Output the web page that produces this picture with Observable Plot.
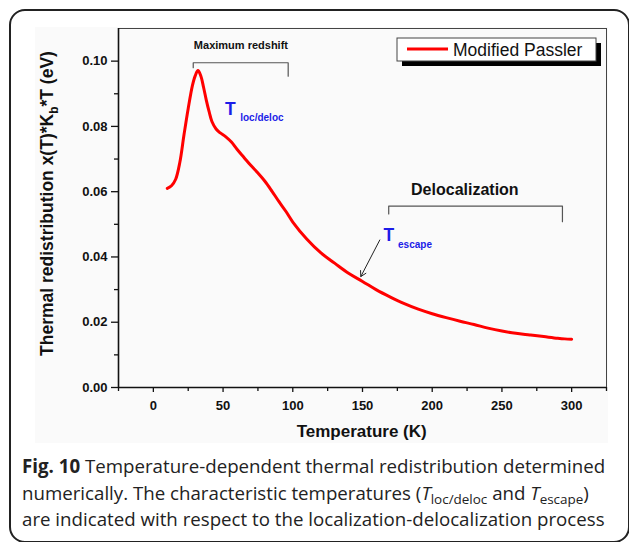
<!DOCTYPE html>
<html><head><meta charset="utf-8">
<script src="https://cdn.jsdelivr.net/npm/d3@7"></script>
<script src="https://cdn.jsdelivr.net/npm/@observablehq/plot@0.6"></script>
<style>
body{margin:0;background:#fff;width:629px;height:542px;overflow:hidden;position:relative;font-family:"Liberation Sans",Arial,sans-serif}
#frame{position:absolute;left:9px;top:9px;width:621px;height:534px;box-sizing:border-box;border:2px solid #222;border-radius:16px}
#bg{position:absolute;left:35px;top:27px;width:573px;height:416px;background:#fafafa}
#chart{position:absolute;left:0;top:0}
#caption{position:absolute;left:22px;top:453px;width:610px;font-family:"Open Sans",sans-serif;font-size:18.7px;line-height:26.5px;color:#222;white-space:nowrap}
#caption sub{font-size:0.72em;vertical-align:-0.3em;line-height:0}
</style></head><body>
<div id="frame"></div>
<div id="bg"></div>
<div id="chart"></div>
<div id="caption"><b>Fig. 10</b> Temperature-dependent thermal redistribution determined<br>numerically. The characteristic temperatures (<i>T</i><sub>loc/deloc</sub> and <i>T</i><sub>escape</sub>)<br>are indicated with respect to the localization-delocalization process</div>
<script>
// Data
const temperature = [10, 13, 16, 19, 22, 25, 28, 30, 32, 34, 36, 38, 40, 42, 45, 48, 52, 56, 60, 65, 70, 75, 80, 85, 90, 95, 100, 110, 120, 130, 140, 150, 160, 170, 180, 190, 200, 210, 220, 230, 240, 250, 260, 270, 280, 290, 295, 300];
const redistribution = [0.0610, 0.0618, 0.0638, 0.0690, 0.0775, 0.0855, 0.0925, 0.0955, 0.0971, 0.0955, 0.0920, 0.0880, 0.0845, 0.0815, 0.0792, 0.0780, 0.0768, 0.0752, 0.0730, 0.0705, 0.0680, 0.0657, 0.0632, 0.0602, 0.0570, 0.0540, 0.0507, 0.0455, 0.0413, 0.0381, 0.0350, 0.0325, 0.0299, 0.0277, 0.0257, 0.0240, 0.0226, 0.0214, 0.0203, 0.0193, 0.0182, 0.0173, 0.0166, 0.0161, 0.0156, 0.0151, 0.0149, 0.0148];
const xTicks = [0, 50, 100, 150, 200, 250, 300];
const xMinorTicks = [-25, 25, 75, 125, 175, 225, 275, 325];
const yTicks = [0, 0.02, 0.04, 0.06, 0.08, 0.10];
const yMinorTicks = [0.01, 0.03, 0.05, 0.07, 0.09];
const seriesName = "Modified Passler";
const xTitle = "Temperature (K)";

// annotation brackets (data coordinates)
const bracketIds = ["redshift", "redshift", "redshift", "redshift", "deloc", "deloc", "deloc", "deloc"];
const bracketT = [28.6, 28.6, 96.7, 96.7, 168.8, 168.8, 293.4, 293.4];
const bracketV = [0.0980, 0.0995, 0.0995, 0.0954, 0.0532, 0.0556, 0.0556, 0.0508];
const labelText = ["Maximum redshift", "Delocalization"];
const labelT = [62.8, 223.4];
const labelV = [0.1036, 0.0590];
const bigT = ["T", "T"];
const bigTx = [51.4, 165.0];
const bigTy = [0.08356, 0.04479];
const subText = ["loc/deloc", "escape"];
const subTx = [62.3, 175.5];
const subTy = [0.0818, 0.04276];
const arrowFrom = [162.4, 0.0452];
const arrowTo = [148.8, 0.0340];

const points = temperature.map((t, i) => ({t, v: redistribution[i]}));
const brackets = bracketT.map((t, i) => ({id: bracketIds[i], t, v: bracketV[i]}));
const labels = labelText.map((s, i) => ({s, t: labelT[i], v: labelV[i]}));
const bigs = bigT.map((s, i) => ({s, t: bigTx[i], v: bigTy[i]}));
const subs = subText.map((s, i) => ({s, t: subTx[i], v: subTy[i]}));

const blue = "#1c1ce8";

const plot = Plot.plot({
  width: 629, height: 450,
  marginLeft: 118, marginRight: 23, marginTop: 28, marginBottom: 63,
  style: {fontFamily: "'Liberation Sans', Arial, sans-serif", background: "transparent", overflow: "visible", color: "#111"},
  x: {domain: [-25, 325]},
  y: {domain: [0, 0.11]},
  marks: [
    Plot.frame({stroke: "#444", strokeWidth: 1}),
    Plot.axisX(xMinorTicks, {tickSize: 4, tickFormat: () => "", label: null, strokeWidth: 1.3}),
    Plot.axisX(xTicks, {tickSize: 5, tickPadding: 8, tickFormat: d => String(d), fontSize: 13, fontWeight: "bold", label: null, strokeWidth: 1.3}),
    Plot.axisY(yMinorTicks, {tickSize: 4, tickFormat: () => "", label: null, strokeWidth: 1.3}),
    Plot.axisY(yTicks, {tickSize: 7, tickPadding: 4, tickFormat: d3.format(".2f"), fontSize: 13, fontWeight: "bold", label: null, strokeWidth: 1.3}),
    Plot.ruleY([0], {stroke: "#111", strokeWidth: 1.6}),
    Plot.ruleX([-25], {stroke: "#111", strokeWidth: 1.6}),
    Plot.line(points, {x: "t", y: "v", stroke: "#ff0000", strokeWidth: 3, curve: "catmull-rom"}),
    Plot.line(brackets, {x: "t", y: "v", z: "id", stroke: "#555", strokeWidth: 1.2}),
    Plot.arrow([{x1: arrowFrom[0], y1: arrowFrom[1], x2: arrowTo[0], y2: arrowTo[1]}], {x1: "x1", y1: "y1", x2: "x2", y2: "y2", stroke: "#222", strokeWidth: 1, headLength: 9}),
    Plot.text(labels, {x: "t", y: "v", text: "s", fontWeight: "bold", fontSize: d => d.s === "Delocalization" ? 16 : 11, lineAnchor: "bottom", textAnchor: "middle", fill: "#111"}),
    Plot.text(bigs, {x: "t", y: "v", text: "s", fontWeight: "bold", fontSize: 17.5, lineAnchor: "bottom", textAnchor: "start", fill: blue}),
    Plot.text(subs, {x: "t", y: "v", text: "s", fontWeight: "bold", fontSize: 10, lineAnchor: "bottom", textAnchor: "start", fill: blue})
  ]
});
document.getElementById("chart").appendChild(plot);

const svg = d3.select(plot);
// x-axis title
svg.append("text").attr("x", 361.7).attr("y", 437).attr("text-anchor", "middle")
  .attr("font-size", 17).attr("font-weight", "bold").attr("fill", "#111").text(xTitle);
// y-axis title with subscript
const yt = svg.append("text").attr("transform", "translate(52.5,203.5) rotate(-90)")
  .attr("text-anchor", "middle").attr("font-size", 17.5).attr("font-weight", "bold").attr("fill", "#111");
yt.append("tspan").text("Thermal redistribution x(T)*K");
yt.append("tspan").attr("font-size", 12).attr("dy", 5).text("b");
yt.append("tspan").attr("dy", -5).text("*T (eV)");
// legend
const lg = svg.append("g");
lg.append("rect").attr("x", 402).attr("y", 43).attr("width", 199).attr("height", 23).attr("fill", "#000");
lg.append("rect").attr("x", 397).attr("y", 38).attr("width", 199).attr("height", 23).attr("fill", "#fff").attr("stroke", "#444").attr("stroke-width", 1);
lg.append("line").attr("x1", 407).attr("x2", 448).attr("y1", 49).attr("y2", 49).attr("stroke", "#ff0000").attr("stroke-width", 3);
lg.append("text").attr("x", 453).attr("y", 56).attr("text-anchor", "start").attr("font-size", 17.5).attr("fill", "#111").text(seriesName);
</script>
</body></html>
